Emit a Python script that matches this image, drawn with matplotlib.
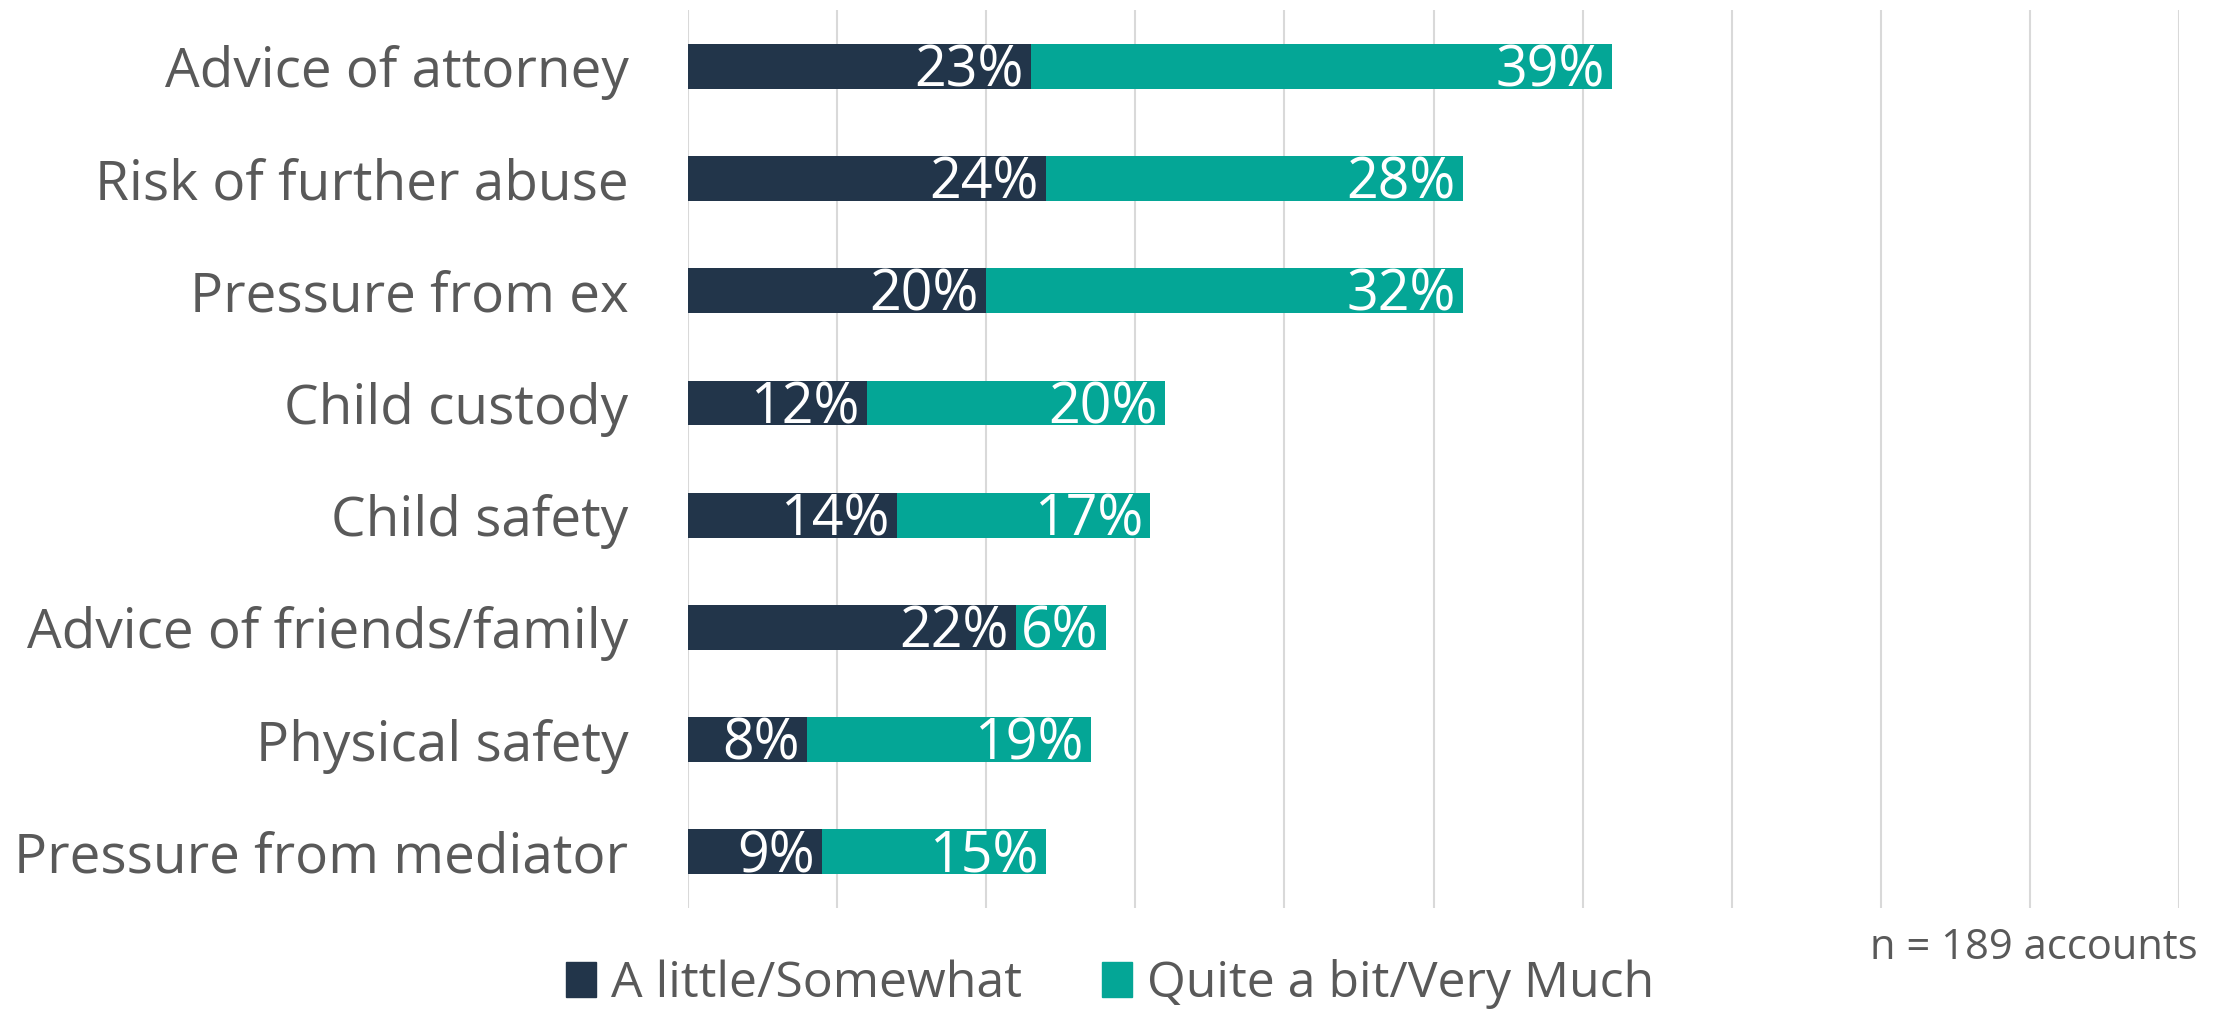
import numpy as np
import matplotlib.pyplot as plt
from matplotlib.patches import Patch

plt.rcParams['font.family'] = ['Open Sans', 'DejaVu Sans']

#Data, top to bottom
categories = ["Advice of attorney", "Risk of further abuse", "Pressure from ex", "Child custody",
              "Child safety", "Advice of friends/family", "Physical safety", "Pressure from mediator"]
little = [23, 24, 20, 12, 14, 22, 8, 9]
quite = [39, 28, 32, 20, 17, 6, 19, 15]
series_names = ["A little/Somewhat", "Quite a bit/Very Much"]
note = "n = 189 accounts"

dark = "#22354A"
teal = "#04A696"
grey = "#595959"

fig = plt.figure(figsize=(22.2, 10.13), dpi=100)
ax = fig.add_axes([0.31, 0.1036, 0.6715, 0.8864])

y = np.arange(len(categories))
ax.barh(y, little, height=0.4, color=dark, zorder=3)
ax.barh(y, quite, left=little, height=0.4, color=teal, zorder=3)

#labels inside end of each segment
for i in range(len(categories)):
	ax.text(little[i] - 0.5, y[i] + 0.05, str(little[i]) + "%", ha='right', va='center',
	        color='white', fontsize=40, zorder=4)
	ax.text(little[i] + quite[i] - 0.5, y[i] + 0.05, str(quite[i]) + "%", ha='right', va='center',
	        color='white', fontsize=40, zorder=4)

ax.set_xlim(0, 100)
ax.set_ylim(len(categories) - 0.5, -0.5)
ax.set_xticks(np.arange(0, 101, 10))
ax.set_xticklabels([])
ax.tick_params(axis='x', length=0)
ax.tick_params(axis='y', length=0, pad=43, labelsize=39.5, labelcolor=grey)
ax.set_yticks(y)
ax.set_yticklabels(categories)
ax.grid(axis='x', color='#D9D9D9', linewidth=1.5, zorder=0)
for s in ax.spines.values():
	s.set_visible(False)

handles = [Patch(color=dark), Patch(color=teal)]
leg = fig.legend(handles, series_names, loc='center', bbox_to_anchor=(0.5, 0.029), ncol=2,
                 frameon=False, fontsize=36, handlelength=0.6, handleheight=0.7,
                 handletextpad=0.3, columnspacing=1.6, labelcolor=grey)
fig.text(0.99, 0.064, note, ha='right', va='center', fontsize=30, color=grey)

plt.savefig("out.png", dpi=100)
